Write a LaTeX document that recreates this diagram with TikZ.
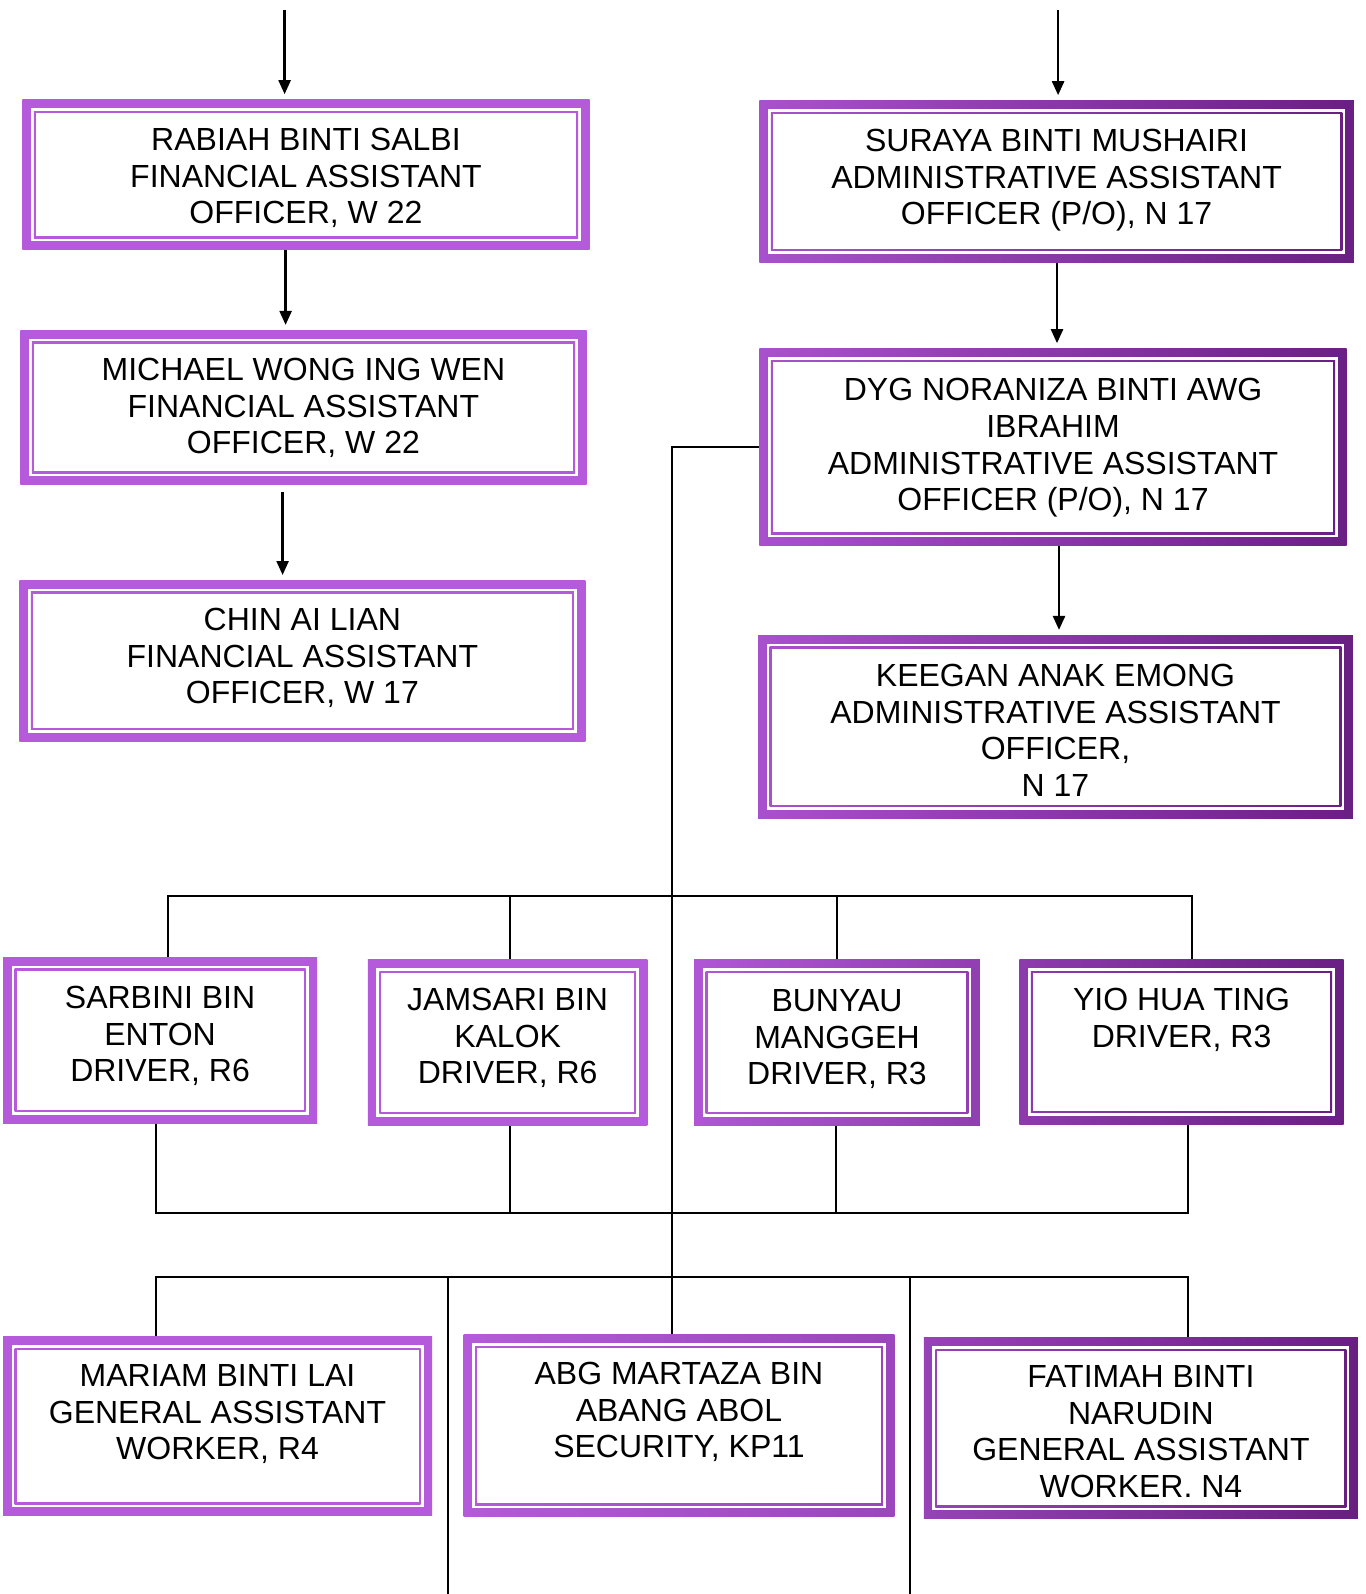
\documentclass[tikz,border=0pt]{standalone}
\usepackage{fontspec}
\setmainfont{Liberation Sans}
\usetikzlibrary{arrows.meta}

% purple of the frames: lighter on the left of the chart, darker on the right
\definecolor{pL}{RGB}{180,90,218}
\definecolor{pR}{RGB}{105,30,130}
\colorlet{bxL}{pL}
\colorlet{bxR}{pR}

\tikzset{
  frame/.style={shape=rectangle, inner sep=0pt, left color=bxL, right color=bxR,
    align=center, text=black, font=\fontsize{16pt}{18.3pt}\selectfont,
    path picture={
      \fill[white] ([shift={(4.25pt,-4.25pt)}]path picture bounding box.north west)
        rectangle ([shift={(-4.25pt,4.25pt)}]path picture bounding box.south east);
      \shade[left color=bxL, right color=bxR]
        ([shift={(5.75pt,-5.75pt)}]path picture bounding box.north west)
        rectangle ([shift={(-5.75pt,5.75pt)}]path picture bounding box.south east);
      \fill[white] ([shift={(6.75pt,-6.75pt)}]path picture bounding box.north west)
        rectangle ([shift={(-6.75pt,6.75pt)}]path picture bounding box.south east);
    }},
  link/.style={line width=1pt, draw=black},
  arr/.style={line width=1.2pt, draw=black, -{Triangle[width=6pt,length=7pt]}, shorten >=2.5pt},
}

% \staffbox{name}{left}{top}{right}{bottom}{baseline of last line}{left mix}{right mix}{text}
\newcommand\staffbox[9]{%
  \colorlet{bxL}{pL!#7!pR}\colorlet{bxR}{pL!#8!pR}%
  \pgfmathsetmacro\bxw{(#4-#2)*0.5}%
  \pgfmathsetmacro\bxh{(#5-#3)*0.5}%
  \pgfmathsetmacro\bxt{(#6-#3)*0.5}%
  \pgfmathsetmacro\bxd{(#5-#6)*0.5}%
  \node[frame, minimum width=\bxw pt, minimum height=\bxh pt,
        text height=\bxt pt, text depth=\bxd pt]
        (#1) at ({(#2+#4)/2},{(#3+#5)/2}) {#9};}

\begin{document}
\begin{tikzpicture}[x=0.5pt, y=-0.5pt]
\path[fill=white, use as bounding box] (0,0) rectangle (1365,1594);

% finance column
\staffbox{rab}{22.4}{99.6}{589.5}{250.0}{223.9}{100}{100}{RABIAH BINTI SALBI\\FINANCIAL ASSISTANT\\OFFICER, W 22}
\staffbox{mic}{20.3}{330.3}{586.5}{484.8}{453.7}{100}{100}{MICHAEL WONG ING WEN\\FINANCIAL ASSISTANT\\OFFICER, W 22}
\staffbox{chi}{19.3}{580.4}{585.4}{741.0}{703.7}{100}{100}{CHIN AI LIAN\\FINANCIAL ASSISTANT\\OFFICER, W 17}

% administration column
\staffbox{sur}{759.3}{100.6}{1353.8}{262.2}{225.0}{85}{1}{SURAYA BINTI MUSHAIRI\\ADMINISTRATIVE ASSISTANT\\OFFICER (P/O), N 17}
\staffbox{dyg}{759.3}{348.6}{1346.7}{545.8}{510.6}{85}{2}{DYG NORANIZA BINTI AWG\\IBRAHIM\\ADMINISTRATIVE ASSISTANT\\OFFICER (P/O), N 17}
\staffbox{kee}{758.2}{635.3}{1352.8}{818.2}{796.2}{85}{1}{KEEGAN ANAK EMONG\\ADMINISTRATIVE ASSISTANT\\OFFICER,\\N 17}

% drivers
\staffbox{sar}{3.0}{957.4}{317.1}{1123.1}{1081.8}{100}{100}{SARBINI BIN\\ENTON\\DRIVER, R6}
\staffbox{jam}{367.9}{959.5}{647.4}{1125.2}{1083.8}{100}{100}{JAMSARI BIN\\KALOK\\DRIVER, R6}
\staffbox{bun}{694.2}{959.5}{979.8}{1125.2}{1084.8}{94}{54}{BUNYAU\\MANGGEH\\DRIVER, R3}
\staffbox{yio}{1019.4}{959.5}{1343.7}{1124.1}{1047.2}{48}{2}{YIO HUA TING\\DRIVER, R3}

% general staff
\staffbox{mar}{3.0}{1336.6}{432.0}{1515.5}{1459.9}{100}{100}{MARIAM BINTI LAI\\GENERAL ASSISTANT\\WORKER, R4}
\staffbox{abg}{463.5}{1334.5}{894.4}{1516.5}{1457.9}{100}{66}{ABG MARTAZA BIN\\ABANG ABOL\\SECURITY, KP11}
\staffbox{fat}{923.9}{1337.6}{1357.9}{1518.5}{1497.5}{61}{0}{FATIMAH BINTI\\NARUDIN\\GENERAL ASSISTANT\\WORKER. N4}

% arrows down the two columns
\coordinate (inL) at (284.6,10);
\coordinate (inR) at (1058.1,10);
\coordinate (ca) at (285.6,0);
\coordinate (cb) at (282.6,0);
\coordinate (cc) at (1057.0,0);
\coordinate (cd) at (1059.0,0);
\draw[arr] (inL) -- (inL |- rab.north);
\draw[arr] (inR) -- (inR |- sur.north);
\draw[arr] (ca |- rab.south) -- (ca |- mic.north);
\draw[arr, shorten <=3.5pt] (cb |- mic.south) -- (cb |- chi.north);
\draw[arr] (cc |- sur.south) -- (cc |- dyg.north);
\draw[arr] (cd |- dyg.south) -- (cd |- kee.north);

% trunk from the administration officer down to security
\coordinate (trunk) at (671.8,0);
\draw[link] (dyg.west) -| (trunk |- abg.north);

% bus to the drivers
\coordinate (tA) at (167.7,895.5);
\coordinate (tB) at (510.2,895.5);
\coordinate (tC) at (836.5,895.5);
\coordinate (tD) at (1192.2,895.5);
\draw[link] (tA |- sar.north) -- (tA) -- (tD) -- (tD |- yio.north);
\draw[link] (tB) -- (tB |- jam.north);
\draw[link] (tC) -- (tC |- bun.north);

% bus joining the drivers underneath
\coordinate (uA) at (155.5,1212.6);
\coordinate (uB) at (510.2,1212.6);
\coordinate (uC) at (835.5,1212.6);
\coordinate (uD) at (1188.2,1212.6);
\draw[link] (uA |- sar.south) -- (uA) -- (uD) -- (uD |- yio.south);
\draw[link] (uB |- jam.south) -- (uB);
\draw[link] (uC |- bun.south) -- (uC);

% bus to the general staff
\coordinate (gA) at (155.5,1276.6);
\coordinate (gB) at (448.2,1276.6);
\coordinate (gC) at (909.7,1276.6);
\coordinate (gD) at (1188.2,1276.6);
\coordinate (eB) at (448.2,1594);
\coordinate (eC) at (909.7,1594);
\draw[link] (gA |- mar.north) -- (gA) -- (gD) -- (gD |- fat.north);
\draw[link] (gB) -- (eB);
\draw[link] (gC) -- (eC);
\end{tikzpicture}
\end{document}
